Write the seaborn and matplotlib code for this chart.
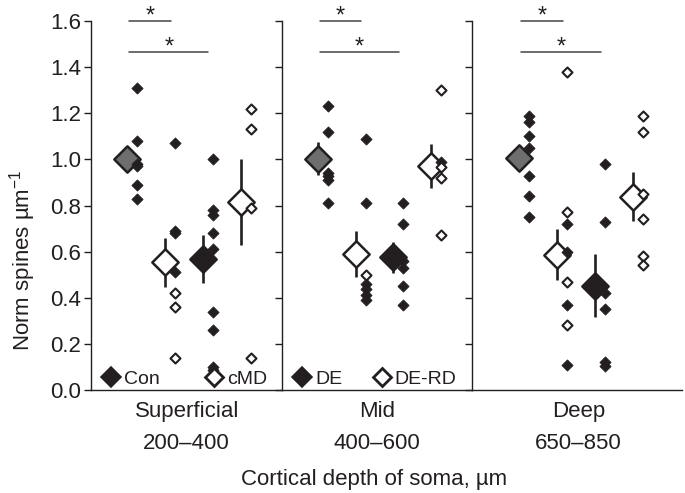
import matplotlib
matplotlib.use("Agg")
import matplotlib.pyplot as plt
from matplotlib.lines import Line2D
import pandas as pd
import seaborn as sns

# depth bins shown as the three panels
CATEGORIES = ["Superficial\n200\u2013400", "Mid\n400\u2013600", "Deep\n650\u2013850"]
GROUPS = ["Con", "cMD", "DE", "DE-RD"]

# individual animals, split into filled / open small diamonds
FILLED = {
    "Superficial": {"Con": [1.31, 1.08, 0.98, 0.97, 0.89, 0.83],
                    "cMD": [1.07, 0.69, 0.68, 0.51],
                    "DE": [1.00, 0.78, 0.76, 0.68, 0.61, 0.34, 0.26, 0.10, 0.085],
                    "DE-RD": []},
    "Mid": {"Con": [1.23, 1.12, 0.94, 0.93, 0.91, 0.81],
            "cMD": [1.09, 0.81, 0.46, 0.44, 0.41, 0.39],
            "DE": [0.81, 0.72, 0.56, 0.53, 0.45, 0.37],
            "DE-RD": [0.99]},
    "Deep": {"Con": [1.19, 1.16, 1.10, 1.05, 0.93, 0.84, 0.75],
             "cMD": [0.72, 0.60, 0.37, 0.11],
             "DE": [0.98, 0.73, 0.42, 0.35, 0.12, 0.105],
             "DE-RD": []},
}
OPEN = {
    "Superficial": {"Con": [], "cMD": [0.42, 0.36, 0.14], "DE": [],
                    "DE-RD": [1.22, 1.13, 0.79, 0.14]},
    "Mid": {"Con": [], "cMD": [0.50], "DE": [],
            "DE-RD": [1.30, 0.965, 0.92, 0.67]},
    "Deep": {"Con": [], "cMD": [1.38, 0.77, 0.47, 0.28], "DE": [],
             "DE-RD": [1.19, 1.12, 0.85, 0.74, 0.58, 0.54]},
}

# group mean +/- s.e.m.
MEANS = {"Superficial": [1.00, 0.553, 0.568, 0.814],
         "Mid": [1.003, 0.590, 0.575, 0.970],
         "Deep": [1.006, 0.587, 0.452, 0.839]}
SEMS = {"Superficial": [0.055, 0.108, 0.104, 0.187],
        "Mid": [0.072, 0.099, 0.066, 0.096],
        "Deep": [0.058, 0.110, 0.137, 0.107]}

# significance bars: (group a, group b, height)
SIG = [(0, 1, 1.60), (0, 2, 1.467)]

LEGENDS = {"Superficial": ["Con", "cMD"], "Mid": ["DE", "DE-RD"]}

INK = "#231f20"
GREY = "#6e6e6e"
MEAN_X = [0.94, 1.94, 2.93, 3.93]
DOT_DX = 0.26


def build_frame():
    rows = []
    for panel in FILLED:
        for gi, g in enumerate(GROUPS):
            for v in FILLED[panel][g]:
                rows.append((panel, g, MEAN_X[gi] + DOT_DX, v, True))
            for v in OPEN[panel][g]:
                rows.append((panel, g, MEAN_X[gi] + DOT_DX, v, False))
    return pd.DataFrame(rows, columns=["panel", "group", "x", "value", "filled"])


sns.set_style("ticks")
plt.rcParams["font.family"] = ["Liberation Sans", "DejaVu Sans"]
plt.rcParams["mathtext.default"] = "regular"
plt.rcParams["text.color"] = INK
plt.rcParams["axes.edgecolor"] = INK
plt.rcParams["xtick.color"] = INK
plt.rcParams["ytick.color"] = INK

df = build_frame()

fig = plt.figure(figsize=(6.85, 4.93), dpi=100)
gs = fig.add_gridspec(1, 3, width_ratios=[191, 189, 210], wspace=0,
                      left=91 / 685, right=682 / 685,
                      bottom=1 - 390 / 493, top=1 - 21 / 493)
xlims = [(0, 5), (0, 5), (-0.3, 5.2)]

for i, cat in enumerate(CATEGORIES):
    panel = cat.split("\n")[0]
    ax = fig.add_subplot(gs[0, i])
    sub = df[df.panel == panel]

    # mean +/- sem
    means = MEANS[panel]
    sems = SEMS[panel]
    ax.vlines(MEAN_X, [m - s for m, s in zip(means, sems)],
              [m + s for m, s in zip(means, sems)], color=INK, lw=1.9, zorder=2)
    faces = [GREY, "white", INK, "white"]
    for gi in range(4):
        sns.scatterplot(x=[MEAN_X[gi]], y=[means[gi]], marker="D", s=180,
                        color=faces[gi], edgecolor=INK, linewidth=1.8,
                        ax=ax, zorder=3, legend=False)

    # individual points
    f = sub[sub.filled]
    o = sub[~sub.filled]
    sns.scatterplot(data=f, x="x", y="value", marker="D", s=32, color=INK,
                    edgecolor=INK, linewidth=0.6, ax=ax, zorder=4, legend=False)
    sns.scatterplot(data=o, x="x", y="value", marker="D", s=26, color="white",
                    edgecolor=INK, linewidth=1.5, ax=ax, zorder=4, legend=False)

    # significance
    for a, b, h in SIG:
        x0 = MEAN_X[a] + 0.06
        x1 = MEAN_X[b] + 0.14
        ax.plot([x0, x1], [h, h], color="#444444", lw=1.1, clip_on=False)
        ax.annotate("*", xy=((x0 + x1) / 2, h), xytext=(0, 3),
                    textcoords="offset points", ha="center", va="center",
                    fontsize=17, annotation_clip=False)

    ax.set_xlim(*xlims[i])
    ax.set_ylim(0, 1.6)
    ax.set_yticks([0, 0.2, 0.4, 0.6, 0.8, 1.0, 1.2, 1.4, 1.6])
    ax.set_xticks([2.5])
    ax.set_xticklabels([cat], linespacing=1.65)
    ax.tick_params(axis="x", length=0, pad=8, labelsize=16)
    ax.tick_params(axis="y", direction="out", length=5, width=1.0,
                   labelsize=16, pad=2)
    if i == 0:
        ax.set_yticklabels(["%.1f" % t for t in ax.get_yticks()])
    else:
        ax.set_yticklabels([])
    ax.set_xlabel("")
    ax.set_ylabel("")
    for side in ("top", "right"):
        ax.spines[side].set_visible(False)
    ax.spines["left"].set_linewidth(1.0)
    ax.spines["bottom"].set_linewidth(1.0)

    if panel in LEGENDS:
        a_lab, b_lab = LEGENDS[panel]
        handles = [
            Line2D([], [], ls="", marker="D", ms=10.5, mfc=INK, mec=INK, mew=1.2),
            Line2D([], [], ls="", marker="D", ms=9.5, mfc="white", mec=INK, mew=2.0),
        ]
        ax.legend(handles, [a_lab, b_lab], ncol=2, mode="expand",
                  loc="lower left", bbox_to_anchor=(0.05, 0.0, 0.88, 0.1),
                  frameon=False, handlelength=0.9, handletextpad=0.2,
                  borderpad=0.1, borderaxespad=0.0, fontsize=14)

fig.text(374 / 685, 1 - 479 / 493, "Cortical depth of soma, \u00b5m",
         ha="center", va="center", fontsize=16)
fig.text(23 / 685, 1 - 260 / 493, "Norm spines \u00b5m$^{-1}$",
         ha="center", va="center", rotation=90, fontsize=16)

fig.savefig("out.png", dpi=100)
